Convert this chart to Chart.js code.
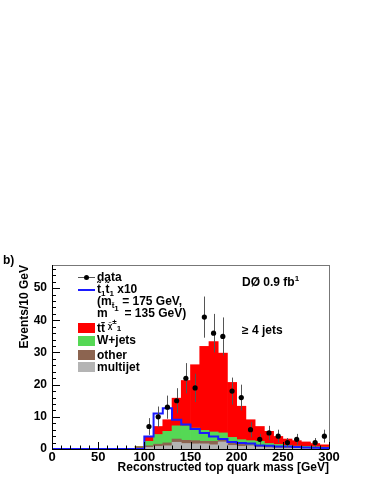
<!DOCTYPE html>
<html lang="en">
  <head>
    <meta charset="UTF-8" />
    <title>Reconstructed top quark mass</title>
    <script src="https://cdn.jsdelivr.net/npm/chart.js"></script>
    <style>
      body { margin: 0; background: #fff; }
      #wrap { position: relative; width: 374px; height: 484px; font-family: "Liberation Sans", Arial, sans-serif; font-weight: bold; }
      #wrap .t { position: absolute; font-size: 12px; line-height: 14px; white-space: nowrap; color: #000; }
      #wrap .box { position: absolute; width: 17px; height: 10px; }
      #wrap sub, #wrap sup { font-size: 8px; line-height: 0; }
    </style>
  </head>
  <body>
    <div id="wrap">
      <canvas id="myChart" width="374" height="484"></canvas>

      <!-- Panel label and annotations -->
      <div class="t" style="left:3px; top:253px">b)</div>
      <div class="t" style="left:242px; top:275px">DØ 0.9 fb<sup>1</sup></div>
      <div class="t" style="left:242px; top:323px">≥ 4 jets</div>

      <!-- Legend -->
      <div style="position:absolute; left:78px; top:277px; width:17px; height:1px; background:#555"></div>
      <div style="position:absolute; left:84px; top:275px; width:5px; height:5px; border-radius:50%; background:#000"></div>
      <div class="t" style="left:97px; top:270px">data</div>

      <div style="position:absolute; left:78px; top:289px; width:17px; height:2px; background:#1a1aff"></div>
      <div class="t" style="left:97px; top:282px">t̃<sub>1</sub>t̃<sub>1</sub> x10</div>
      <div class="t" style="left:97px; top:294px">(m<sub>t̃<sub>1</sub></sub> = 175 GeV,</div>
      <div class="t" style="left:97px; top:306px">m<sub style="position:relative; top:8px">χ̃<sup>±</sup><sub>1</sub></sub> = 135 GeV)</div>

      <div class="box" style="left:78px; top:323px; background:#ff0000"></div>
      <div class="t" style="left:97px; top:321px">tt̄</div>
      <div class="box" style="left:78px; top:336px; background:#55d855"></div>
      <div class="t" style="left:97px; top:333px">W+jets</div>
      <div class="box" style="left:78px; top:350px; background:#8c6450"></div>
      <div class="t" style="left:97px; top:348px">other</div>
      <div class="box" style="left:78px; top:362px; background:#b4b4b4"></div>
      <div class="t" style="left:97px; top:360px">multijet</div>
    </div>

    <script>
      // 10 GeV bins, lower edges
      const binLow = [0, 10, 20, 30, 40, 50, 60, 70, 80, 90, 100, 110, 120, 130, 140,
        150, 160, 170, 180, 190, 200, 210, 220, 230, 240, 250, 260, 270, 280, 290];

      // background components (events per bin)
      const multijet = [0, 0, 0, 0, 0, 0, 0, 0, 0, 0.2, 0.5, 0.8, 1.0, 2.1, 1.7,
        1.6, 1.6, 1.3, 2.2, 1.1, 0.8, 1.0, 0.6, 0.4, 0.3, 0.3, 0.2, 0.2, 0.2, 0.1];
      const other = [0, 0, 0, 0, 0, 0, 0, 0, 0, 0.4, 0.5, 0.7, 0.9, 1.0, 1.0,
        1.0, 0.8, 1.1, 0.9, 0.8, 0.9, 0.3, 0.5, 0.4, 0.4, 0.3, 0.3, 0.2, 0.2, 0.2];
      const wjets = [0, 0, 0, 0, 0, 0, 0, 0, 0, 0.1, 1.4, 3.0, 3.6, 4.1, 4.5,
        3.9, 3.4, 2.9, 1.9, 1.7, 1.2, 1.3, 1.3, 0.9, 0.7, 0.5, 0.4, 0.4, 0.3, 0.3];
      const ttbar = [0, 0, 0, 0, 0, 0, 0, 0, 0, 0.1, 1.5, 2.5, 3.6, 8.6, 14.1,
        19.7, 26.1, 28.1, 24.8, 17.1, 10.4, 6.5, 4.6, 3.8, 2.5, 2.0, 1.7, 1.4, 1.0, 0.7];

      // stop pair signal x10
      const stopX10 = [0, 0, 0, 0, 0, 0, 0, 0, 0, 0, 3.9, 11.0, 12.7, 9.1, 7.6,
        6.2, 5.0, 3.9, 3.1, 2.2, 1.9, 1.7, 1.1, 1.0, 0.8, 0.8, 0.6, 0.5, 0.4, 0.3];

      // data points at bin centres
      const dataMass = [105, 115, 125, 135, 145, 155, 165, 175, 185, 195,
        205, 215, 225, 235, 245, 255, 265, 275, 285, 295];
      const dataCounts = [7, 10, 13, 15, 22, 19, 41, 36, 35, 18,
        16, 6, 3, 5, 4, 2, 3, null, 2, 4];
      const dataErr = [2.6, 3.2, 3.6, 3.9, 4.7, 4.4, 6.4, 6.0, 5.9, 4.2,
        4.0, 2.4, 1.7, 2.2, 2.0, 1.4, 1.7, 0, 1.4, 2.0];

      const xTicks = [0, 50, 100, 150, 200, 250, 300];
      const yTicks = [0, 10, 20, 30, 40, 50];

      const Y_MAX = 57.2;
      const FONT = "'Liberation Sans', Arial, sans-serif";

      const hist = (arr) => arr.map((v, i) => ({ x: binLow[i] + 5, y: v }));
      const stepPts = binLow.map((x, i) => ({ x: x, y: stopX10[i] }));
      stepPts.push({ x: 300, y: stopX10[stopX10.length - 1] });

      // error bars, drawn just before the data markers
      const errorBars = {
        id: "errorBars",
        beforeDatasetDraw(chart, args) {
          if (args.index !== 5) return;
          const { ctx, scales } = chart;
          const x = scales.x, y = scales.y;
          ctx.save();
          ctx.strokeStyle = "#555";
          ctx.lineWidth = 1;
          dataMass.forEach((m, i) => {
            if (dataCounts[i] == null) return;
            const px = Math.round(x.getPixelForValue(m)) + 0.5;
            ctx.beginPath();
            ctx.moveTo(px, y.getPixelForValue(dataCounts[i] - dataErr[i]));
            ctx.lineTo(px, y.getPixelForValue(dataCounts[i] + dataErr[i]));
            ctx.stroke();
          });
          ctx.restore();
        },
      };

      // ROOT-style frame with inside ticks
      const frame = {
        id: "frame",
        afterDatasetsDraw(chart) {
          const { ctx, chartArea: a, scales } = chart;
          const x = scales.x, y = scales.y;
          ctx.save();
          ctx.lineWidth = 1;
          ctx.strokeStyle = "#777";
          ctx.strokeRect(Math.round(a.left) + 0.5, Math.round(a.top) + 0.5,
            Math.round(a.right - a.left), Math.round(a.bottom - a.top));
          ctx.strokeStyle = "#000";
          ctx.beginPath();
          for (let v = 0; v <= 56; v += 2) {
            const py = Math.round(y.getPixelForValue(v)) + 0.5;
            ctx.moveTo(a.left, py);
            ctx.lineTo(a.left + (v % 10 === 0 ? 8 : 4), py);
          }
          for (let v = 0; v <= 300; v += 10) {
            const px = Math.round(x.getPixelForValue(v)) + 0.5;
            ctx.moveTo(px, a.bottom);
            ctx.lineTo(px, a.bottom - (v % 50 === 0 ? 7 : 3.5));
          }
          ctx.moveTo(a.left, Math.round(a.bottom) + 0.5);
          ctx.lineTo(a.right, Math.round(a.bottom) + 0.5);
          ctx.moveTo(Math.round(a.left) + 0.5, a.top);
          ctx.lineTo(Math.round(a.left) + 0.5, a.bottom);
          ctx.stroke();
          ctx.restore();
        },
      };

      const barStyle = { type: "bar", stack: "bkg", order: 2, borderWidth: 0,
        barPercentage: 1, categoryPercentage: 1 };

      new Chart(document.getElementById("myChart"), {
        type: "bar",
        data: {
          datasets: [
            { ...barStyle, label: "multijet", data: hist(multijet), backgroundColor: "#b4b4b4" },
            { ...barStyle, label: "other", data: hist(other), backgroundColor: "#8c6450" },
            { ...barStyle, label: "W+jets", data: hist(wjets), backgroundColor: "#55d855" },
            { ...barStyle, label: "ttbar", data: hist(ttbar), backgroundColor: "#ff0000" },
            {
              type: "line", label: "stop x10", data: stepPts, yAxisID: "y2", order: 1,
              stepped: "before", borderColor: "#1a1aff", borderWidth: 2, pointRadius: 0, fill: false,
            },
            {
              type: "scatter", label: "data", yAxisID: "y2", order: 0,
              data: dataMass.map((m, i) => ({ x: m, y: dataCounts[i] })),
              backgroundColor: "#000", borderColor: "#000", pointRadius: 2.6, pointBorderWidth: 0,
            },
          ],
        },
        options: {
          responsive: false,
          animation: false,
          events: [],
          layout: { padding: { top: 265, right: 45, left: 0, bottom: 0 } },
          plugins: { legend: { display: false }, tooltip: { enabled: false } },
          scales: {
            x: {
              type: "linear", min: 0, max: 300, offset: false, stacked: true,
              grid: { display: false, drawTicks: false, offset: false },
              border: { display: false },
              afterBuildTicks: (s) => { s.ticks = xTicks.map((v) => ({ value: v })); },
              afterFit: (s) => { s.height = 35; },
              ticks: { color: "#000", padding: 1, maxRotation: 0, font: { family: FONT, size: 13, weight: "bold" } },
              title: {
                display: true, text: "Reconstructed top quark mass [GeV]", align: "end", color: "#000",
                padding: { top: 0, bottom: 9 }, font: { family: FONT, size: 12, weight: "bold" },
              },
            },
            y: {
              min: 0, max: Y_MAX, stacked: true,
              grid: { display: false, drawTicks: false },
              border: { display: false },
              afterBuildTicks: (s) => { s.ticks = yTicks.map((v) => ({ value: v })); },
              afterFit: (s) => { s.width = 52; },
              ticks: { color: "#000", padding: 5, font: { family: FONT, size: 12, weight: "bold" } },
              title: {
                display: true, text: "Events/10 GeV", align: "end", color: "#000",
                padding: { top: 17, bottom: 0 }, font: { family: FONT, size: 12, weight: "bold" },
              },
            },
            y2: { display: false, min: 0, max: Y_MAX },
          },
        },
        plugins: [errorBars, frame],
      });
    </script>
  </body>
</html>
